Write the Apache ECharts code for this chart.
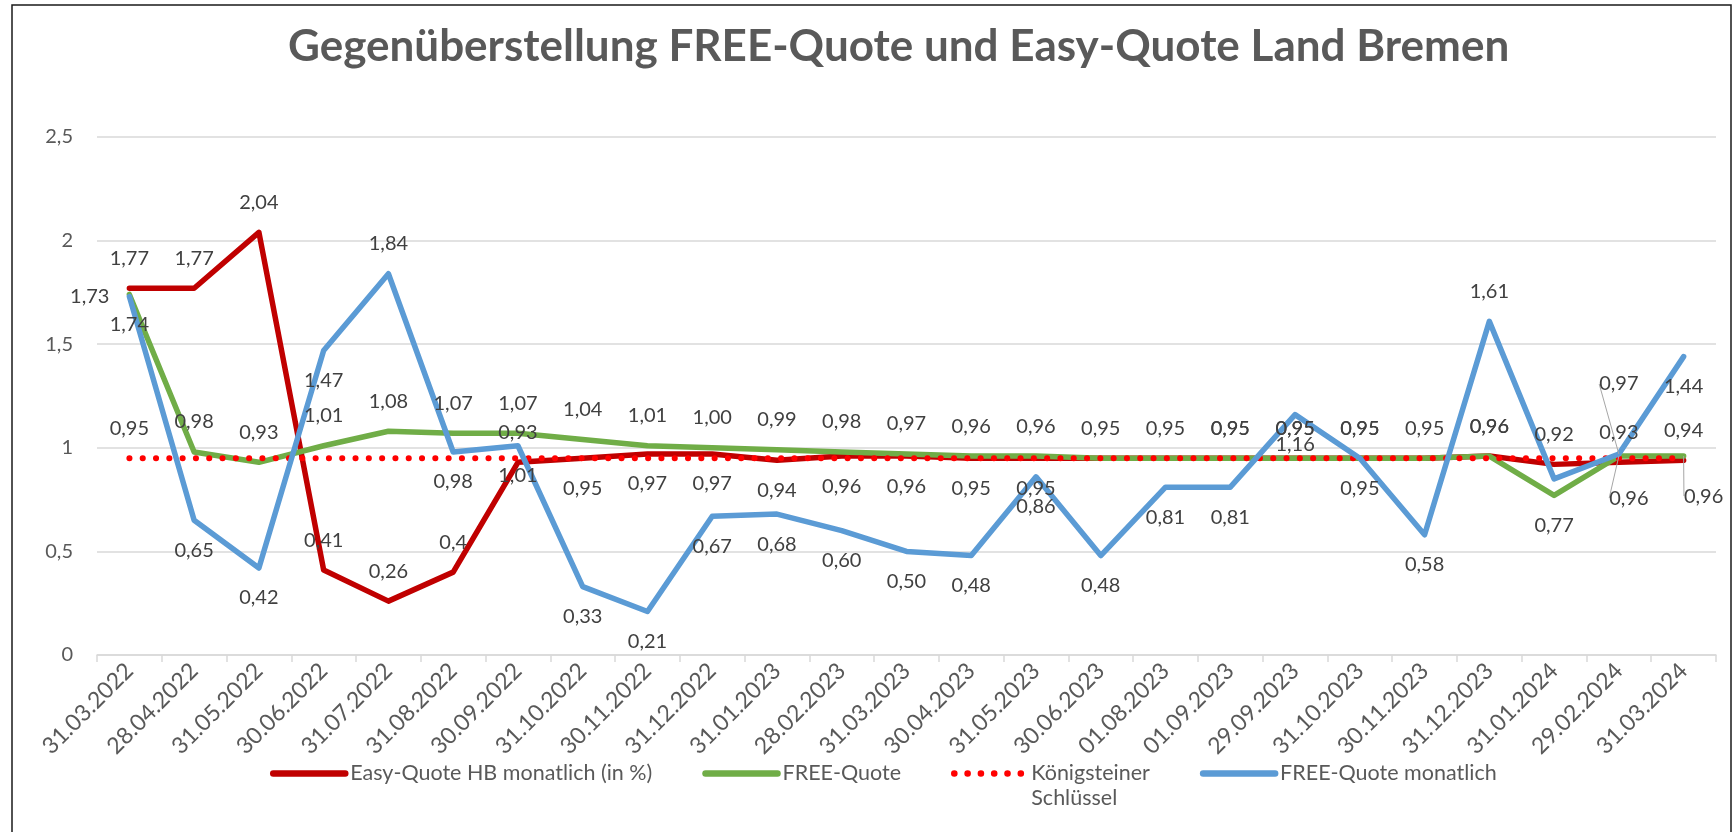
<!DOCTYPE html>
<html>
<head>
<meta charset="utf-8">
<script src="https://cdn.jsdelivr.net/npm/echarts@6/dist/echarts.min.js"></script>
<style>
  html, body { margin: 0; padding: 0; background: #fff; }
  #chart { width: 1734px; height: 832px; }
</style>
</head>
<body>
<div id="chart"></div>
<script>
const categories = [
  "31.03.2022", "28.04.2022", "31.05.2022", "30.06.2022", "31.07.2022",
  "31.08.2022", "30.09.2022", "31.10.2022", "30.11.2022", "31.12.2022",
  "31.01.2023", "28.02.2023", "31.03.2023", "30.04.2023", "31.05.2023",
  "30.06.2023", "01.08.2023", "01.09.2023", "29.09.2023", "31.10.2023",
  "30.11.2023", "31.12.2023", "31.01.2024", "29.02.2024", "31.03.2024"
];

const easyQuote = [
  1.77, 1.77, 2.04, 0.41, 0.26, 0.4, 0.93, 0.95, 0.97, 0.97,
  0.94, 0.96, 0.96, 0.95, 0.95, 0.95, 0.95, 0.95, 0.95, 0.95,
  0.95, 0.96, 0.92, 0.93, 0.94
];
const freeQuote = [
  1.74, 0.98, 0.93, 1.01, 1.08, 1.07, 1.07, 1.04, 1.01, 1.0,
  0.99, 0.98, 0.97, 0.96, 0.96, 0.95, 0.95, 0.95, 0.95, 0.95,
  0.95, 0.96, 0.77, 0.96, 0.96
];
const koenigsteiner = [
  0.95, 0.95, 0.95, 0.95, 0.95, 0.95, 0.95, 0.95, 0.95, 0.95,
  0.95, 0.95, 0.95, 0.95, 0.95, 0.95, 0.95, 0.95, 0.95, 0.95,
  0.95, 0.95, 0.95, 0.95, 0.95
];
const freeMonthly = [
  1.73, 0.65, 0.42, 1.47, 1.84, 0.98, 1.01, 0.33, 0.21, 0.67,
  0.68, 0.6, 0.5, 0.48, 0.86, 0.48, 0.81, 0.81, 1.16, 0.95,
  0.58, 1.61, 0.85, 0.97, 1.44
];

// where each data label sits ("none" = no label)
const easyLabelPos = [
  "top", "top", "top", "top", "top", "top", "top", "bottom", "bottom", "bottom",
  "bottom", "bottom", "bottom", "bottom", "bottom", "none", "none", "top", "top", "top",
  "none", "top", "top", "top", "top"
];
const freeLabelPos = [
  "bottom", "top", "top", "top", "top", "top", "top", "top", "top", "top",
  "top", "top", "top", "top", "top", "top", "top", "top", "top", "top",
  "top", "top", "bottom", "bottom", "bottom"
];
const koenigLabelPos = ["top"];
const monthlyLabelPos = [
  "left", "bottom", "bottom", "bottom", "top", "bottom", "bottom", "bottom", "bottom", "bottom",
  "bottom", "bottom", "bottom", "bottom", "bottom", "bottom", "bottom", "bottom", "bottom", "bottom",
  "bottom", "top", "none", "top", "bottom"
];
// labels that were dragged away and keep a leader line
const freeLeaders = [23, 24];
const monthlyLeaders = [23];

const labelFont = "Lato";
const comma = (v) => String(v).replace(".", ",");
const comma2 = (v) => v.toFixed(2).replace(".", ",");

function buildData(values, positions, fmt, leaders) {
  return values.map(function (v, i) {
    var pos = positions[i] || "none";
    return {
      value: v,
      label: {
        show: pos !== "none",
        position: pos,
        formatter: function () { return fmt(v); }
      },
      labelLine: { show: (leaders || []).indexOf(i) >= 0 }
    };
  });
}

const baseLabel = {
  show: true,
  color: "#404040",
  fontFamily: labelFont,
  fontSize: 20,
  distance: 20
};

function lineSeries(name, color, values, positions, fmt, leaders, extra) {
  var s = {
    name: name,
    type: "line",
    symbol: "circle",
    symbolSize: 0,
    showSymbol: true,
    color: color,
    itemStyle: { color: color },
    lineStyle: { color: color, width: 5.5, cap: "round", join: "round" },
    label: baseLabel,
    labelLine: { show: false, lineStyle: { color: "#A6A6A6", width: 1 } },
    emphasis: { disabled: true },
    data: buildData(values, positions, fmt, leaders)
  };
  return Object.assign(s, extra || {});
}

var chart = echarts.init(document.getElementById("chart"));
var option = {
  backgroundColor: "#ffffff",
  animation: false,
  title: {
    text: "Gegenüberstellung FREE-Quote und Easy-Quote Land Bremen",
    left: 283,
    top: 20,
    textStyle: {
      color: "#595959",
      fontFamily: labelFont,
      fontWeight: "bold",
      fontSize: 44
    }
  },
  graphic: [
    {
      type: "rect",
      shape: { x: 12, y: 5, width: 1719, height: 840 },
      style: { fill: "none", stroke: "#1a1a1a", lineWidth: 1.5 },
      silent: true
    }
  ],
  grid: {
    left: 97,
    right: 18,
    top: 137,
    bottom: 177
  },
  legend: {
    left: 265,
    top: 731,
    itemWidth: 72,
    itemHeight: 14,
    itemGap: 50,
    itemStyle: { opacity: 0 },
    lineStyle: { width: 6.5, cap: "round" },
    textStyle: {
      color: "#595959",
      fontFamily: labelFont,
      fontSize: 21.5,
      lineHeight: 25
    },
    data: [
      { name: "Easy-Quote HB monatlich (in %)" },
      { name: "FREE-Quote" },
      { name: "Königsteiner Schlüssel" },
      { name: "FREE-Quote monatlich" }
    ],
    formatter: function (name) {
      return name === "Königsteiner Schlüssel" ? " \nKönigsteiner\nSchlüssel" : name;
    }
  },
  xAxis: {
    type: "category",
    data: categories,
    boundaryGap: true,
    axisLine: { lineStyle: { color: "#D9D9D9", width: 1.5 } },
    axisTick: { show: true, length: 7, lineStyle: { color: "#D9D9D9", width: 1.5 } },
    axisLabel: {
      interval: 0,
      rotate: 45,
      margin: 12,
      color: "#595959",
      fontFamily: labelFont,
      fontSize: 23
    },
    splitLine: { show: false }
  },
  yAxis: {
    type: "value",
    min: 0,
    max: 2.5,
    interval: 0.5,
    axisLine: { show: false },
    axisTick: { show: false },
    axisLabel: {
      margin: 24,
      color: "#595959",
      fontFamily: labelFont,
      fontSize: 20,
      formatter: function (v) { return comma(v); }
    },
    splitLine: { lineStyle: { color: "#D9D9D9", width: 1.5 } }
  },
  series: [
    lineSeries("Easy-Quote HB monatlich (in %)", "#C00000", easyQuote, easyLabelPos, comma),
    lineSeries("FREE-Quote", "#70AD47", freeQuote, freeLabelPos, comma2, freeLeaders, {
      labelLayout: function (p) {
        if (p.dataIndex === 23) return { dy: 12, dx: 10 };
        if (p.dataIndex === 24) return { dy: 10, dx: 20 };
        return {};
      }
    }),
    lineSeries("Königsteiner Schlüssel", "#FF0000", koenigsteiner, koenigLabelPos, comma2, null, {
      lineStyle: { color: "#FF0000", width: 6, type: [0.1, 13.2], cap: "round" }
    }),
    lineSeries("FREE-Quote monatlich", "#5B9BD5", freeMonthly, monthlyLabelPos, comma2, monthlyLeaders, {
      labelLayout: function (p) {
        if (p.dataIndex === 23) return { dy: -40 };
        return {};
      }
    })
  ]
};
chart.setOption(option);
</script>
</body>
</html>
